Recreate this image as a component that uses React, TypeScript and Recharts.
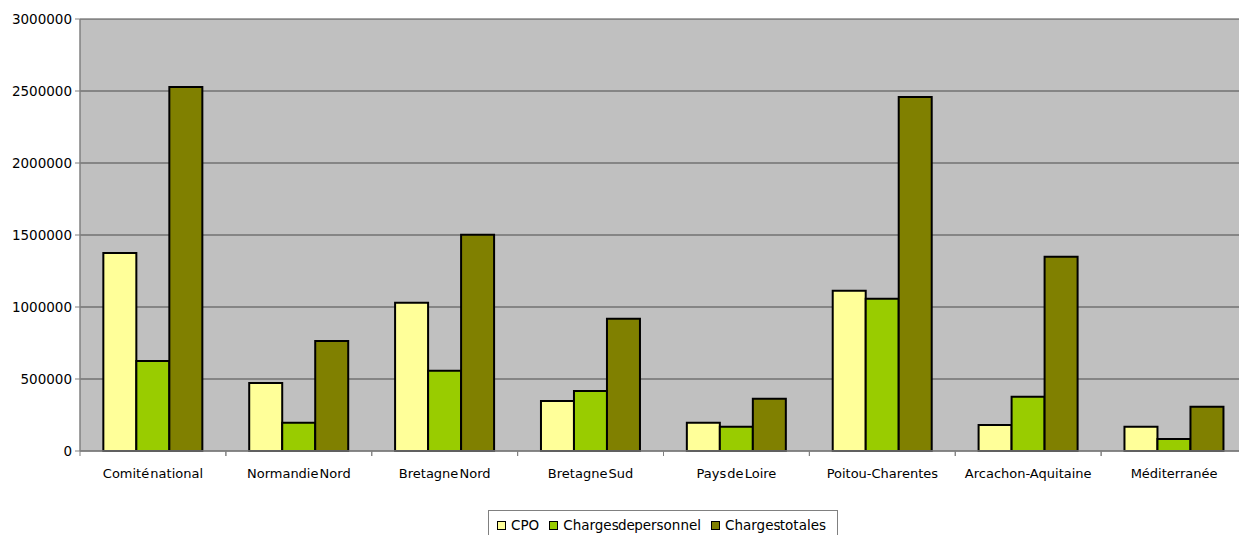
import React from "react";
import { BarChart, Bar, XAxis, YAxis, CartesianGrid } from "recharts";

const categories = [
  "Comité national",
  "Normandie Nord",
  "Bretagne Nord",
  "Bretagne Sud",
  "Pays de Loire",
  "Poitou-Charentes",
  "Arcachon-Aquitaine",
  "Méditerranée",
];
const cpo = [1375000, 472000, 1030000, 347000, 197000, 1113000, 181000, 169000];
const chargesPersonnel = [625000, 196000, 558000, 417000, 169000, 1058000, 377000, 83000];
const chargesTotales = [2528000, 764000, 1502000, 919000, 363000, 2458000, 1349000, 308000];
const yTicks = [0, 500000, 1000000, 1500000, 2000000, 2500000, 3000000];

const seriesNames = ["CPO", "Charges de personnel", "Charges totales"];
const seriesColors = ["#FFFF99", "#99CC00", "#808000"];

const data = categories.map((c, i) => ({
  name: c,
  cpo: cpo[i],
  pers: chargesPersonnel[i],
  tot: chargesTotales[i],
}));

const CHART_W = 1247;
const CHART_H = 535;
const LEFT = 80;
const BAND = (CHART_W - LEFT) / categories.length;
const FONT = "'DejaVu Sans', Verdana, sans-serif";

const XTick = (props: any) => {
  const { x, y, payload } = props;
  return (
    <g>
      <line x1={x - BAND / 2} x2={x - BAND / 2} y1={y - 8} y2={y - 3} stroke="#808080" strokeWidth={1} />
      <line x1={x + BAND / 2} x2={x + BAND / 2} y1={y - 8} y2={y - 3} stroke="#808080" strokeWidth={1} />
      <text
        x={x}
        y={y + 19}
        textAnchor="middle"
        fill="#000"
        fontSize={13}
        fontFamily={FONT}
        style={{ wordSpacing: "-3px" }}
      >
        {payload.value}
      </text>
    </g>
  );
};

const YTick = (props: any) => {
  const { x, y, payload } = props;
  return (
    <text x={x} y={y} dy={4.5} textAnchor="end" fill="#000" fontSize={13.5} fontFamily={FONT}>
      {String(payload.value)}
    </text>
  );
};

export default function App() {
  return (
    <div style={{ position: "absolute", left: 0, top: 0, width: 1239, height: CHART_H, overflow: "hidden", background: "#fff" }}>
      <BarChart
        width={CHART_W}
        height={CHART_H}
        data={data}
        margin={{ top: 19, right: 0, bottom: 54, left: 0 }}
        barCategoryGap="16%"
        barGap={0}
      >
        <CartesianGrid horizontal vertical={false} stroke="#4a4a4a" strokeWidth={1} fill="#C0C0C0" fillOpacity={1} />
        <XAxis
          dataKey="name"
          height={30}
          interval={0}
          tickLine={false}
          axisLine={{ stroke: "#808080", strokeWidth: 1.5 }}
          tick={<XTick />}
        />
        <YAxis
          width={LEFT}
          domain={[0, 3000000]}
          ticks={yTicks}
          interval={0}
          tickSize={5}
          tickMargin={3}
          tickLine={{ stroke: "#808080" }}
          axisLine={{ stroke: "#808080", strokeWidth: 1.5 }}
          tick={<YTick />}
        />
        <Bar dataKey="cpo" name={seriesNames[0]} fill={seriesColors[0]} stroke="#000" strokeWidth={2} isAnimationActive={false} />
        <Bar dataKey="pers" name={seriesNames[1]} fill={seriesColors[1]} stroke="#000" strokeWidth={2} isAnimationActive={false} />
        <Bar dataKey="tot" name={seriesNames[2]} fill={seriesColors[2]} stroke="#000" strokeWidth={2} isAnimationActive={false} />
      </BarChart>
      <div
        style={{
          position: "absolute",
          left: 488,
          top: 510,
          width: 350,
          height: 40,
          border: "1px solid #808080",
          boxSizing: "border-box",
          fontFamily: FONT,
          fontSize: 13.5,
          display: "flex",
          flexWrap: "nowrap",
          whiteSpace: "nowrap",
          alignItems: "flex-start",
          paddingTop: 6,
          paddingLeft: 8,
          wordSpacing: "-5px",
        }}
      >
        {seriesNames.map((n, i) => (
          <div key={n} style={{ display: "flex", alignItems: "center", marginRight: 10, flexShrink: 0, whiteSpace: "nowrap" }}>
            <span
              style={{
                display: "inline-block",
                width: 7,
                height: 7,
                background: seriesColors[i],
                border: "1.5px solid #000",
                marginRight: 5,
                flexShrink: 0,
              }}
            />
            <span style={{ lineHeight: "16px", whiteSpace: "nowrap" }}>{n}</span>
          </div>
        ))}
      </div>
    </div>
  );
}
